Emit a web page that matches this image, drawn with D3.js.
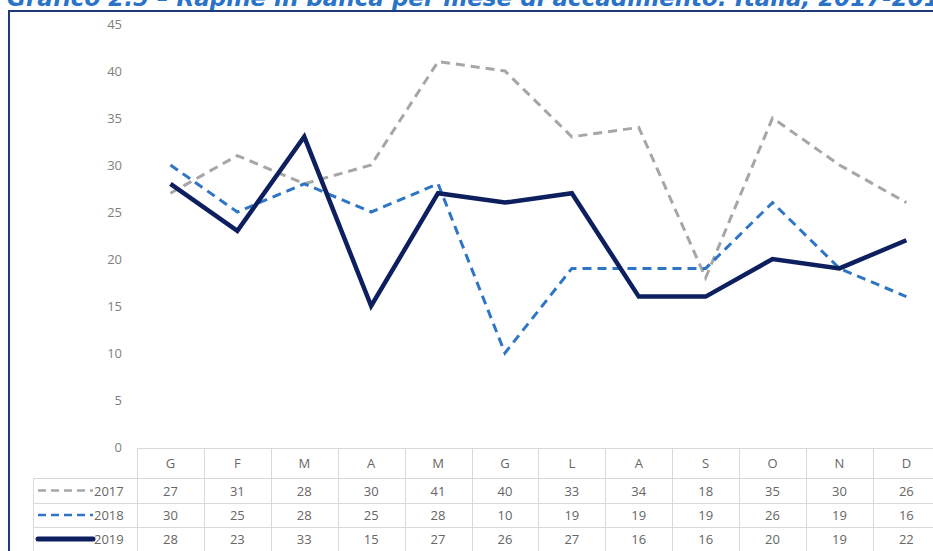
<!DOCTYPE html>
<html>
<head>
<meta charset="utf-8">
<script src="https://cdn.jsdelivr.net/npm/d3@7"></script>
<style>
  body { margin: 0; background: #fff; }
  svg { display: block; }
  .title { font-family: "DejaVu Sans", sans-serif; font-weight: bold; font-style: italic; fill: #2a73c9; font-size: 23px; }
  .tick_str { font-family: "Open Sans", sans-serif; font-size: 13px; fill: #7f7f7f; }
  .cell_str { font-family: "Open Sans", sans-serif; font-size: 13px; fill: #666; }
  .grid { stroke: #d9d9d9; stroke-width: 1; }
</style>
</head>
<body>
<svg id="chart" width="933" height="551"></svg>
<script>
// data
var months = ['G', 'F', 'M', 'A', 'M', 'G', 'L', 'A', 'S', 'O', 'N', 'D'];
var years = ['2017', '2018', '2019'];
var v2017 = [27, 31, 28, 30, 41, 40, 33, 34, 18, 35, 30, 26];
var v2018 = [30, 25, 28, 25, 28, 10, 19, 19, 19, 26, 19, 16];
var v2019 = [28, 23, 33, 15, 27, 26, 27, 16, 16, 20, 19, 22];
var yTicks = [0, 5, 10, 15, 20, 25, 30, 35, 40, 45];

var series = [
  { name: years[0], values: v2017, color: '#a6a6a6', width: 3, dash: '9,6' },
  { name: years[1], values: v2018, color: '#2e75c6', width: 3, dash: '9,6' },
  { name: years[2], values: v2019, color: '#0d1f5e', width: 4.5, dash: null }
];

var svg = d3.select('#chart');
var W = 933, H = 551;

// title (cut off at the top as in the source)
svg.append('text')
  .attr('x', 7)
  .attr('y', 6)
  .attr('class', 'title')
  .text('Grafico 2.5 \u2013 Rapine in banca per mese di accadimento: Italia, 2017-2019');

// frame
svg.append('path')
  .attr('d', 'M9,' + H + 'V11H' + W)
  .attr('fill', 'none')
  .attr('stroke', '#1f3a78')
  .attr('stroke-width', 2);

// scales
var tableLeft = 137;
var colW = 66.9;
var x = d3.scaleBand()
  .domain(d3.range(months.length))
  .range([tableLeft, tableLeft + colW * months.length]);
var y = d3.scaleLinear().domain([0, 45]).range([447, 24]);

// y axis labels
var yAxis = d3.axisLeft(y).tickValues(yTicks).tickSize(0).tickPadding(0);
var yg = svg.append('g').attr('transform', 'translate(122,0)').call(yAxis);
yg.select('.domain').remove();
yg.selectAll('text').attr('class', 'tick_str').attr('font-family', null).attr('font-size', null);

// lines
var line = d3.line()
  .x(function(d, i) { return x(i) + x.bandwidth() / 2; })
  .y(function(d) { return y(d); });

series.forEach(function(s) {
  svg.append('path')
    .datum(s.values)
    .attr('d', line)
    .attr('fill', 'none')
    .attr('stroke', s.color)
    .attr('stroke-width', s.width)
    .attr('stroke-dasharray', s.dash)
    .attr('stroke-linejoin', 'miter');
});

// data table
var rowTop = [448, 478, 503, 527, 551];
var legendLeft = 33;
var tableRight = x.range()[1];

// horizontal rules
svg.append('line').attr('class', 'grid')
  .attr('x1', tableLeft).attr('x2', tableRight)
  .attr('y1', rowTop[0] + 0.5).attr('y2', rowTop[0] + 0.5);
[1, 2, 3].forEach(function(r) {
  svg.append('line').attr('class', 'grid')
    .attr('x1', legendLeft).attr('x2', tableRight)
    .attr('y1', rowTop[r] + 0.5).attr('y2', rowTop[r] + 0.5);
});
// vertical rules
d3.range(months.length + 1).forEach(function(i) {
  var xx = Math.round(tableLeft + i * colW) + 0.5;
  svg.append('line').attr('class', 'grid')
    .attr('x1', xx).attr('x2', xx)
    .attr('y1', rowTop[0]).attr('y2', H);
});
svg.append('line').attr('class', 'grid')
  .attr('x1', legendLeft + 0.5).attr('x2', legendLeft + 0.5)
  .attr('y1', rowTop[1]).attr('y2', H);

// month header
svg.selectAll('.month_str')
  .data(months)
  .enter().append('text')
  .attr('class', 'cell_str')
  .attr('x', function(d, i) { return x(i) + x.bandwidth() / 2; })
  .attr('y', (rowTop[0] + rowTop[1]) / 2 + 5)
  .attr('text-anchor', 'middle')
  .text(function(d) { return d; });

// value rows + legend keys
series.forEach(function(s, r) {
  var cy = (rowTop[r + 1] + rowTop[r + 2]) / 2;
  svg.append('line')
    .attr('x1', 38).attr('x2', 93)
    .attr('y1', cy).attr('y2', cy)
    .attr('stroke', s.color)
    .attr('stroke-width', s.dash ? 2.5 : 5)
    .attr('stroke-dasharray', s.dash ? '8,5' : null)
    .attr('stroke-linecap', s.dash ? 'butt' : 'round');
  svg.append('text')
    .attr('class', 'cell_str')
    .attr('x', 94)
    .attr('y', cy + 5)
    .text(s.name);
  svg.selectAll('.v' + s.name)
    .data(s.values)
    .enter().append('text')
    .attr('class', 'cell_str')
    .attr('x', function(d, i) { return x(i) + x.bandwidth() / 2; })
    .attr('y', cy + 5)
    .attr('text-anchor', 'middle')
    .text(function(d) { return d; });
});
</script>
</body>
</html>
